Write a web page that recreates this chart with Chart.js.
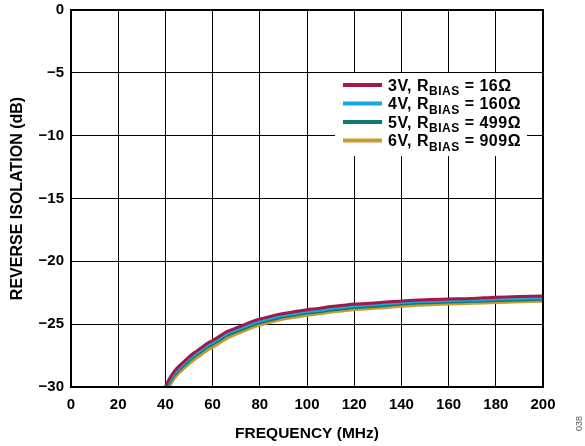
<!DOCTYPE html>
<html>
<head>
<meta charset="utf-8">
<script src="https://cdn.jsdelivr.net/npm/chart.js@4/dist/chart.umd.min.js"></script>
<style>
  html, body { margin: 0; padding: 0; background: #fff; }
  #wrap { width: 585px; height: 446px; position: relative; }
</style>
</head>
<body>
<div id="wrap"><canvas id="c" width="585" height="446"></canvas></div>
<script>
// ---- Data ----
const freqMHz = [40, 42, 44, 46, 48, 50, 52, 55, 58, 60, 63, 66, 70, 74, 78, 82, 86, 90, 95, 100, 105, 110, 115, 120, 130, 140, 150, 160, 170, 180, 190, 200];

const iso3V = [-29.95, -29.25, -28.7, -28.3, -27.95, -27.6, -27.3, -26.9, -26.5, -26.3, -25.95, -25.6, -25.3, -25.0, -24.7, -24.5, -24.3, -24.15, -24.0, -23.85, -23.75, -23.6, -23.5, -23.4, -23.3, -23.15, -23.05, -23.0, -22.95, -22.85, -22.8, -22.75];
const iso4V = [-30.1, -29.4, -28.85, -28.45, -28.1, -27.75, -27.45, -27.05, -26.65, -26.45, -26.1, -25.75, -25.45, -25.15, -24.85, -24.65, -24.45, -24.3, -24.15, -24.0, -23.9, -23.75, -23.65, -23.55, -23.42, -23.28, -23.18, -23.12, -23.07, -23.0, -22.95, -22.9];
const iso5V = [-30.25, -29.55, -29.0, -28.6, -28.25, -27.9, -27.6, -27.2, -26.8, -26.6, -26.25, -25.9, -25.6, -25.3, -25.0, -24.8, -24.6, -24.42, -24.27, -24.12, -24.02, -23.88, -23.78, -23.68, -23.55, -23.4, -23.3, -23.24, -23.18, -23.12, -23.07, -23.02];
const iso6V = [-30.6, -29.85, -29.25, -28.85, -28.5, -28.15, -27.85, -27.45, -27.05, -26.85, -26.5, -26.15, -25.8, -25.5, -25.2, -24.98, -24.78, -24.6, -24.45, -24.3, -24.18, -24.05, -23.95, -23.85, -23.72, -23.58, -23.48, -23.4, -23.34, -23.28, -23.22, -23.17];

const seriesVolt = ['3V', '4V', '5V', '6V'];
const seriesRbias = ['16Ω', '160Ω', '499Ω', '909Ω'];
const seriesValues = [iso3V, iso4V, iso5V, iso6V];
const seriesColors = ['#a3174d', '#17a8de', '#0e7a72', '#c99a2e'];

const xTickStep = 20, xMin = 0, xMax = 200;
const yTickStep = 5, yMin = -30, yMax = 0;
const xTitle = 'FREQUENCY (MHz)';
const yTitle = 'REVERSE ISOLATION (dB)';
const figureCode = '038';

const FONT = '"Liberation Sans", Arial, Helvetica, sans-serif';

const datasets = seriesValues.map((vals, i) => ({
  label: seriesVolt[i] + ', RBIAS = ' + seriesRbias[i],
  data: freqMHz.map((f, j) => ({ x: f, y: vals[j] })),
  borderColor: seriesColors[i],
  backgroundColor: seriesColors[i],
  borderWidth: 3,
  pointRadius: 0,
  tension: 0.3,
  fill: false
}));

// Legend with subscript, frame border, side code text
const customPlugin = {
  id: 'custom',
  afterDatasetsDraw(chart) {
    const ctx = chart.ctx;
    const ca = chart.chartArea;
    ctx.save();
    // chart area frame
    ctx.strokeStyle = '#000';
    ctx.lineWidth = 2;
    ctx.strokeRect(ca.left, ca.top, ca.right - ca.left, ca.bottom - ca.top);

    // legend box (white, hides grid)
    ctx.fillStyle = '#fff';
    ctx.fillRect(335, 73, 192, 83);
    const rows = [85, 103.5, 122, 140.5];
    chart.data.datasets.forEach((ds, i) => {
      const y = rows[i];
      ctx.strokeStyle = ds.borderColor;
      ctx.lineWidth = 4;
      ctx.beginPath();
      ctx.moveTo(343, y);
      ctx.lineTo(382, y);
      ctx.stroke();
      ctx.fillStyle = '#000';
      ctx.textBaseline = 'alphabetic';
      ctx.textAlign = 'left';
      const base = y + 5.8;
      ctx.letterSpacing = '0.5px';
      let x = 388;
      ctx.font = 'bold 16px ' + FONT;
      const t1 = seriesVolt[i] + ', R';
      ctx.fillText(t1, x, base);
      x += ctx.measureText(t1).width;
      ctx.font = 'bold 12px ' + FONT;
      ctx.fillText('BIAS', x, base + 4.3);
      x += ctx.measureText('BIAS').width;
      ctx.font = 'bold 16px ' + FONT;
      ctx.fillText(' = ' + seriesRbias[i], x, base);
    });
    ctx.letterSpacing = '0px';

    // figure code at right bottom
    ctx.fillStyle = '#555';
    ctx.font = '9px ' + FONT;
    ctx.translate(580, 423.5);
    ctx.rotate(-Math.PI / 2);
    ctx.textAlign = 'center';
    ctx.textBaseline = 'middle';
    ctx.fillText(figureCode, 0, 0);
    ctx.restore();
  }
};

new Chart(document.getElementById('c'), {
  type: 'line',
  data: { datasets },
  options: {
    responsive: false,
    animation: false,
    devicePixelRatio: 1,
    layout: { padding: { top: 10, right: 42, left: 0, bottom: 0 } },
    plugins: { legend: { display: false }, tooltip: { enabled: false } },
    scales: {
      x: {
        type: 'linear',
        min: xMin, max: xMax,
        afterFit(s) { s.height = 59; s.paddingLeft = 0; s.paddingRight = 0; },
        border: { display: true, color: '#000', width: 2 },
        grid: { color: '#000', lineWidth: 1, drawTicks: false },
        ticks: {
          stepSize: xTickStep, padding: 9, color: '#000',
          font: { family: FONT, size: 15, weight: 'bold' },
          maxRotation: 0
        },
        title: {
          display: true, text: xTitle, color: '#000',
          font: { family: FONT, size: 15.5, weight: 'bold' },
          padding: { top: 0, bottom: 3 }
        }
      },
      y: {
        type: 'linear',
        min: yMin, max: yMax,
        afterFit(s) { s.width = 71; s.paddingTop = 0; s.paddingBottom = 0; },
        border: { display: true, color: '#000', width: 2 },
        grid: { color: '#000', lineWidth: 1, drawTicks: false },
        ticks: {
          stepSize: yTickStep, padding: 7, color: '#000',
          font: { family: FONT, size: 15, weight: 'bold' },
          callback: v => (v < 0 ? '\u2212' + Math.abs(v) : String(v))
        },
        title: {
          display: true, text: yTitle, color: '#000',
          font: { family: FONT, size: 16, weight: 'bold' },
          padding: { top: 8, bottom: 0 }
        }
      }
    }
  },
  plugins: [customPlugin]
});
</script>
</body>
</html>
